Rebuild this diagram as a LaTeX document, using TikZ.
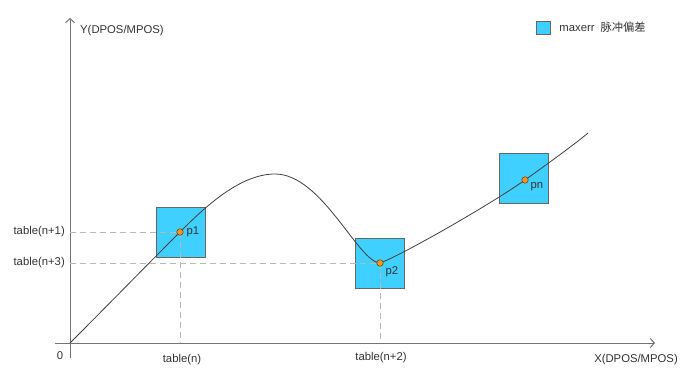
\documentclass[tikz,border=0pt]{standalone}
\usepackage{fontspec}
\setmainfont{Liberation Sans}
\newfontfamily\cjk{Noto Sans CJK SC}
\usetikzlibrary{positioning,arrows.meta}
\definecolor{boxcyan}{HTML}{3FD0FF}
\definecolor{dotorange}{HTML}{F7931E}

\begin{document}
\begin{tikzpicture}[x=1pt,y=-1pt,
    font=\fontsize{11.3}{13}\selectfont,
    axis/.style={draw=black!55, line width=1pt, -{Straight Barb[length=4pt,width=9pt]}},
    guide/.style={draw=black!28, line width=0.9pt, dash pattern=on 6pt off 4pt},
    curve/.style={draw=black!75, line width=0.8pt},
    errbox/.style={draw=black!60, fill=boxcyan, minimum width=49pt, minimum height=50pt, inner sep=0pt},
    keybox/.style={draw=black!60, fill=boxcyan, minimum width=14pt, minimum height=13pt, inner sep=0pt},
    sample/.style={circle, draw=black!60!dotorange, fill=dotorange, line width=0.5pt, minimum size=6.5pt, inner sep=0pt},
    lbl/.style={text=black!80, inner sep=1pt}]
    \useasboundingbox (0,0) rectangle (687,379);
    \coordinate (O) at (70,343);
    \coordinate (xs) at (55,343);
    \coordinate (xe) at (655,343);
    \coordinate (ys) at (70,358);
    \coordinate (ye) at (70,18);
    \coordinate (p1) at (180,232);
    \coordinate (pk) at (275,174);
    \coordinate (p2) at (380,263);
    \coordinate (pn) at (525,180);
    \coordinate (pe) at (588,133);

    \draw[axis] (xs) -- (xe);
    \draw[axis] (ys) -- (ye);

    \node[errbox] (B1) at (180.5,232) {};
    \node[errbox] (B2) at (379.5,263.5) {};
    \node[errbox] (Bn) at (523.5,178) {};

    \draw[guide] (O |- p1) -- (p1);
    \draw[guide] (O |- p2) -- (p2);
    \draw[guide] (p1) -- (p1 |- O);
    \draw[guide] (p2) -- (p2 |- O);

    \draw[curve] (O) .. controls (107,306) and (143,269) .. (p1)
        .. controls (205,207) and (240,174) .. (pk)
        .. controls (322,174) and (358,262) .. (p2)
        .. controls (400,256) and (488,206) .. (pn)
        .. controls (541,168.5) and (572.7,145.9) .. (pe);

    \node[sample] (d1) at (p1) {};
    \node[sample] (d2) at (p2) {};
    \node[sample] (dn) at (pn) {};
    \node[lbl, right=2pt of d1] (l1) {p1};
    \node[lbl, below right=0pt and 2pt of d2] (l2) {p2};
    \node[lbl, below right=-1pt and 2pt of dn] (ln) {pn};

    \node[lbl, anchor=east] (t1) at (66,232) {table(n+1)};
    \node[lbl, anchor=east] (t3) at (66,263) {table(n+3)};
    \node[lbl] (t0) at (182,360) {table(n)};
    \node[lbl] (t2) at (381,358) {table(n+2)};
    \node[lbl] (zero) at (60,356) {0};
    \node[lbl, anchor=west] (ylab) at (79,31) {Y(DPOS/MPOS)};
    \node[lbl] (xlab) at (636,360) {X(DPOS/MPOS)};

    \node[keybox] (key) at (543,27.5) {};
    \node[lbl, right=8pt of key] (keytext) {maxerr\hspace{6pt}{\cjk 脉冲偏差}};
\end{tikzpicture}
\end{document}
